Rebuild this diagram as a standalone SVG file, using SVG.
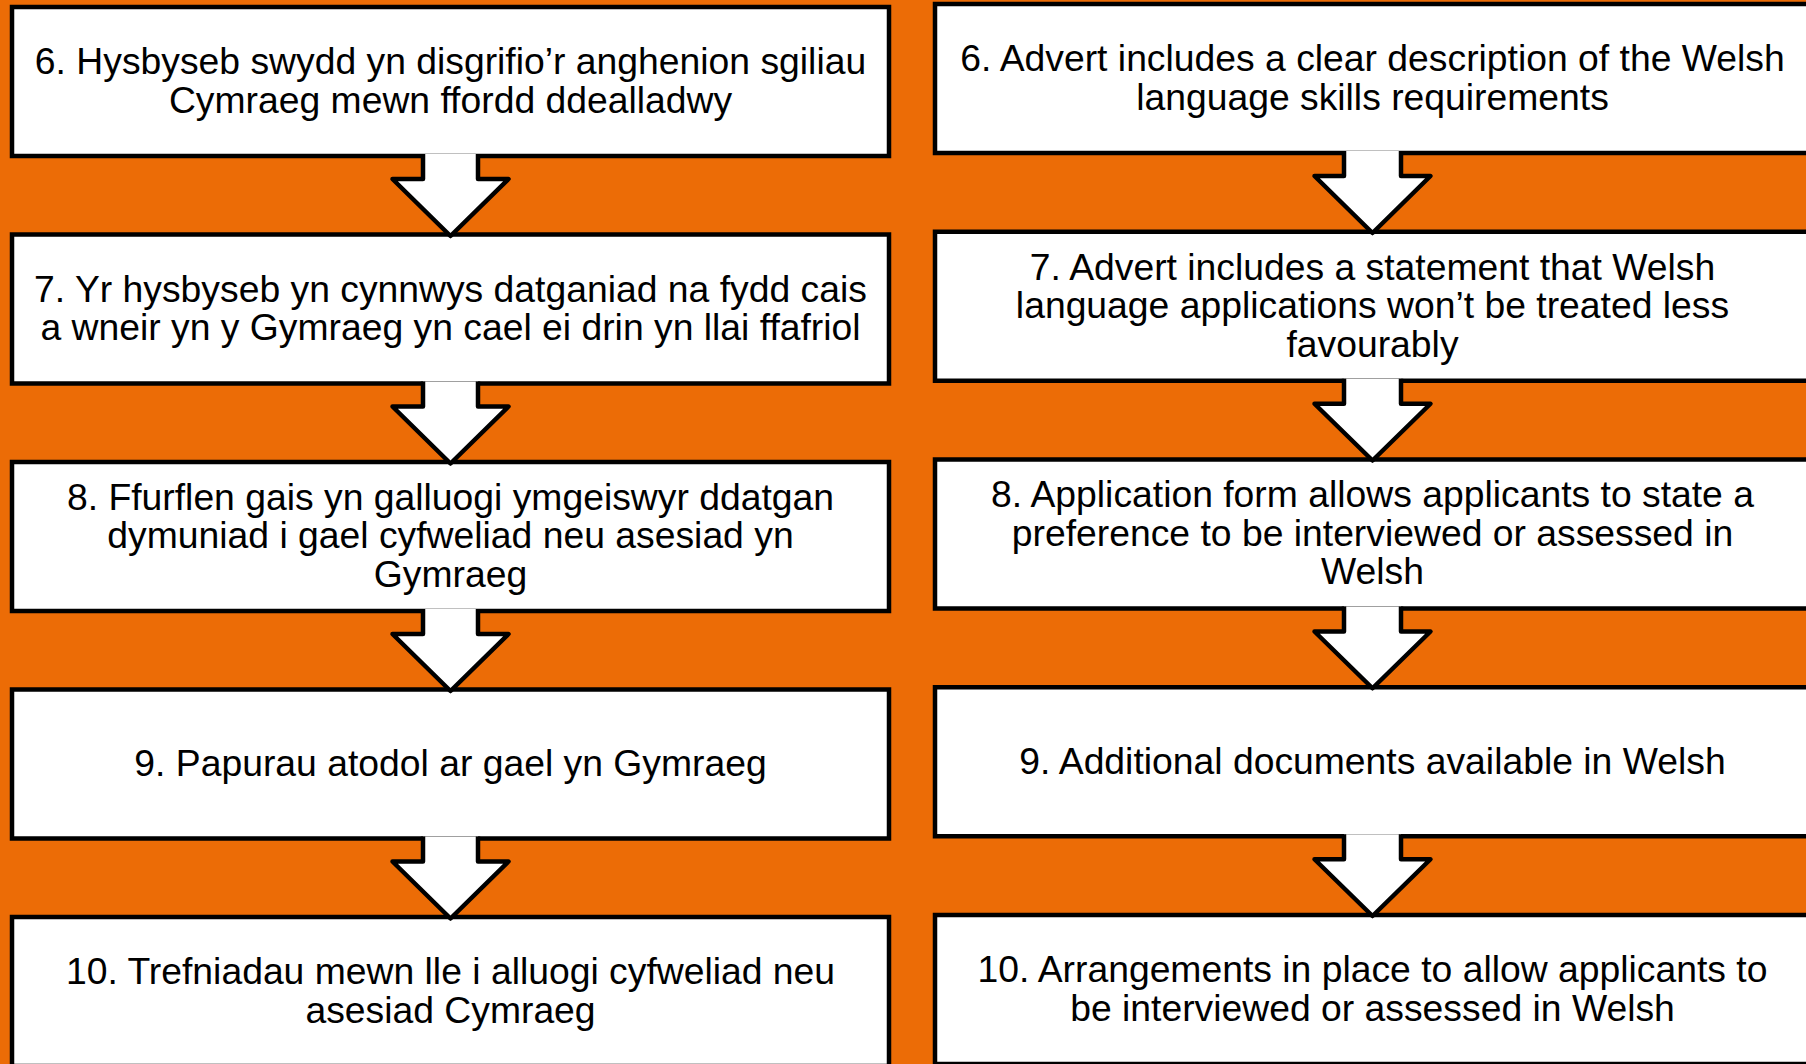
<svg xmlns="http://www.w3.org/2000/svg" width="1806" height="1064" viewBox="0 0 1806 1064">
<style>
.bg{fill:#EC6C06}
.box{fill:#FFFFFF;stroke:#000000;stroke-width:4.5}
.arr{fill:#FFFFFF;stroke:#000000;stroke-width:4.5;stroke-linejoin:round}
.t{font-family:"Liberation Sans",Arial,sans-serif;font-size:37.3px;fill:#000000;text-anchor:middle}
</style>
<rect class="bg" x="0" y="0" width="1806" height="1064"/>
<g id="nodes">
<g id="cy6"><rect class="box" x="12" y="7" width="877" height="149"/><text class="t" x="450.5" y="74">6. Hysbyseb swydd yn disgrifio’r anghenion sgiliau</text><text class="t" x="450.5" y="112.5">Cymraeg mewn ffordd ddealladwy</text></g>
<g id="cy7"><rect class="box" x="12" y="234.5" width="877" height="149"/><text class="t" x="450.5" y="301.5">7. Yr hysbyseb yn cynnwys datganiad na fydd cais</text><text class="t" x="450.5" y="340">a wneir yn y Gymraeg yn cael ei drin yn llai ffafriol</text></g>
<g id="cy8"><rect class="box" x="12" y="462" width="877" height="149"/><text class="t" x="450.5" y="509.75">8. Ffurflen gais yn galluogi ymgeiswyr ddatgan</text><text class="t" x="450.5" y="548.25">dymuniad i gael cyfweliad neu asesiad yn</text><text class="t" x="450.5" y="586.75">Gymraeg</text></g>
<g id="cy9"><rect class="box" x="12" y="689.5" width="877" height="149"/><text class="t" x="450.5" y="775.75">9. Papurau atodol ar gael yn Gymraeg</text></g>
<g id="cy10"><rect class="box" x="12" y="917" width="877" height="149"/><text class="t" x="450.5" y="984">10. Trefniadau mewn lle i alluogi cyfweliad neu</text><text class="t" x="450.5" y="1022.5">asesiad Cymraeg</text></g>
<g id="en6"><rect class="box" x="935" y="4" width="875" height="149"/><text class="t" x="1372.5" y="71">6. Advert includes a clear description of the Welsh</text><text class="t" x="1372.5" y="109.5">language skills requirements</text></g>
<g id="en7"><rect class="box" x="935" y="231.75" width="875" height="149"/><text class="t" x="1372.5" y="279.5">7. Advert includes a statement that Welsh</text><text class="t" x="1372.5" y="318">language applications won’t be treated less</text><text class="t" x="1372.5" y="356.5">favourably</text></g>
<g id="en8"><rect class="box" x="935" y="459.5" width="875" height="149"/><text class="t" x="1372.5" y="507.25">8. Application form allows applicants to state a</text><text class="t" x="1372.5" y="545.75">preference to be interviewed or assessed in</text><text class="t" x="1372.5" y="584.25">Welsh</text></g>
<g id="en9"><rect class="box" x="935" y="687.25" width="875" height="149"/><text class="t" x="1372.5" y="773.5">9. Additional documents available in Welsh</text></g>
<g id="en10"><rect class="box" x="935" y="915" width="875" height="149"/><text class="t" x="1372.5" y="982">10. Arrangements in place to allow applicants to</text><text class="t" x="1372.5" y="1020.5">be interviewed or assessed in Welsh</text></g>
</g>
<g id="connectors">
<path class="arr" d="M423 154 V179 H392.5 L450.5 236 L508.5 179 H478 V154"/>
<path class="arr" d="M423 381.5 V406.5 H392.5 L450.5 463.5 L508.5 406.5 H478 V381.5"/>
<path class="arr" d="M423 609 V634 H392.5 L450.5 691 L508.5 634 H478 V609"/>
<path class="arr" d="M423 836.5 V861.5 H392.5 L450.5 918.5 L508.5 861.5 H478 V836.5"/>
<path class="arr" d="M1344 151 V176 H1314.5 L1372.5 233 L1430.5 176 H1401 V151"/>
<path class="arr" d="M1344 378.75 V403.75 H1314.5 L1372.5 460.5 L1430.5 403.75 H1401 V378.75"/>
<path class="arr" d="M1344 606.5 V631.5 H1314.5 L1372.5 688.25 L1430.5 631.5 H1401 V606.5"/>
<path class="arr" d="M1344 834.25 V859.25 H1314.5 L1372.5 916 L1430.5 859.25 H1401 V834.25"/>
</g>
</svg>
